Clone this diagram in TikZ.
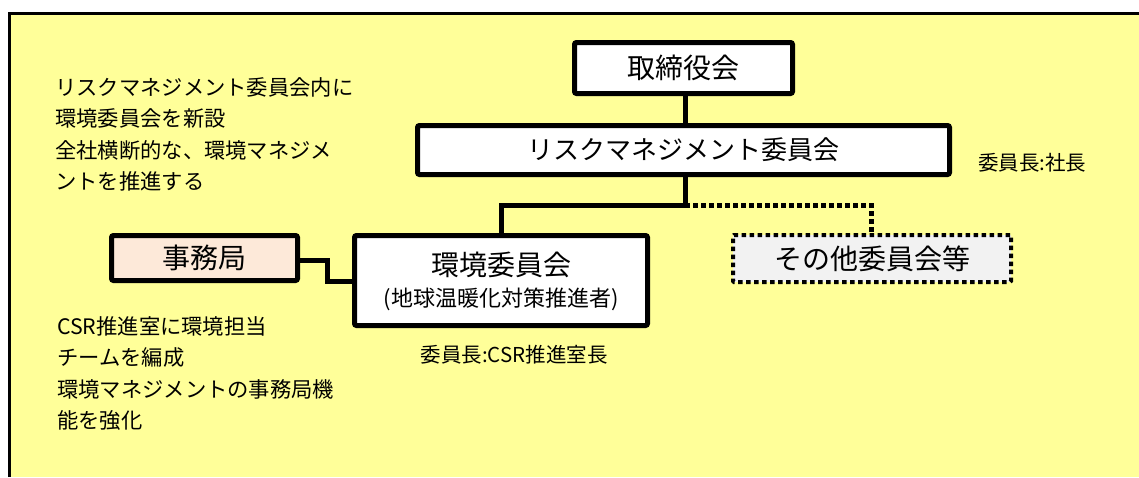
\documentclass[tikz,border=0pt]{standalone}
\usepackage{fontspec}
\setmainfont{Noto Sans CJK JP}
\definecolor{bgyellow}{HTML}{FFFF99}
\definecolor{jimufill}{HTML}{FDE9D9}
\definecolor{otherfill}{HTML}{F2F2F2}
\begin{document}
\begin{tikzpicture}[x=1pt,y=-1pt,
  box/.style={draw=black, line width=5pt, fill=white, rounded corners=2pt, align=center, inner sep=0pt, font=\fontsize{28}{32}\selectfont},
  conn/.style={line width=5pt, line join=miter},
  dotconn/.style={line width=5pt, dash pattern=on 4.5pt off 3.5pt},
  note/.style={font=\fontsize{21.3}{31.5}\selectfont, align=left, anchor=north west, inner sep=0pt},
  chair/.style={font=\fontsize{20.5}{24}\selectfont, inner sep=0pt}]
\useasboundingbox (0,0) rectangle (1139,477);
% frame
\fill[bgyellow] (10,13) rectangle (1139,477);
\draw[line width=3pt] (9.5,477) -- (9.5,13.5) -- (1139,13.5);
% boxes
\node[box, minimum width=218pt, minimum height=51pt] (board) at (683.5,68) {取締役会};
\node[box, minimum width=532pt, minimum height=49pt, font=\fontsize{26}{30}\selectfont] (rm) at (683.5,150) {リスクマネジメント委員会};
\node[box, minimum width=293pt, minimum height=90pt] (env) at (501,280.5) {};
\node[font=\fontsize{28}{32}\selectfont, inner sep=0pt] (envt1) at (501,265) {環境委員会};
\node[font=\fontsize{22}{26}\selectfont, inner sep=0pt] (envt2) at (501,299) {(地球温暖化対策推進者)};
\node[box, fill=jimufill, minimum width=186pt, minimum height=45pt] (jimu) at (204.5,258) {事務局};
\node[box, fill=otherfill, line width=4pt, dash pattern=on 4.5pt off 3.5pt, rounded corners=1pt, minimum width=278pt, minimum height=47pt] (other) at (872,258.5) {その他委員会等};
% connectors
\coordinate (jn) at (685,205);
\coordinate (k1) at (327,260);
\coordinate (k2) at (327,281);
\draw[conn] (board.south -| jn) -- (rm.north -| jn);
\draw[conn] (rm.south -| jn) -- (jn) -| (env.north -| 501,0);
\draw[dotconn] (jn) -| (other.north -| 871,0);
\draw[conn] (jimu.east |- k1) -- (k1) -- (k2) -- (k2 -| env.west);
% notes
\node[note] (n1) at (55,77) {リスクマネジメント委員会内に\\環境委員会を新設\\全社横断的な、環境マネジメ\\ントを推進する};
\node[note] (n2) at (57,316) {CSR推進室に環境担当\\チームを編成\\環境マネジメントの事務局機\\能を強化};
\node[chair, anchor=west] (c1) at (978,163) {委員長:社長};
\node[chair] (c2) at (514,355) {委員長:CSR推進室長};
\end{tikzpicture}
\end{document}
